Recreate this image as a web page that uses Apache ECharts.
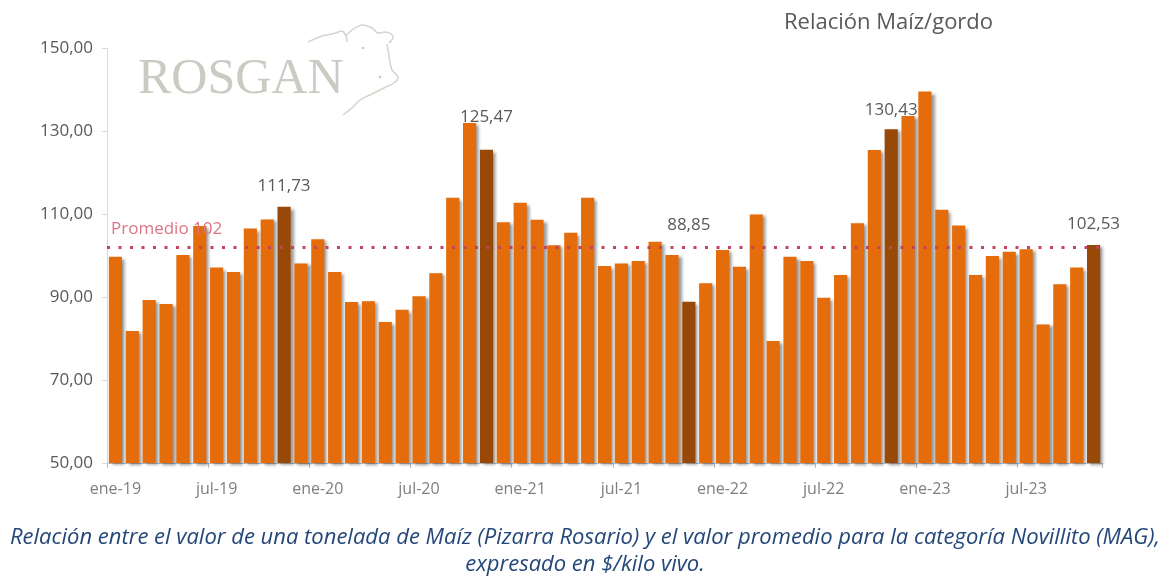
<!DOCTYPE html>
<html>
<head>
<meta charset="UTF-8">
<title>Relación Maíz/gordo</title>
<script src="https://cdn.jsdelivr.net/npm/echarts@6/dist/echarts.min.js"></script>
<style>
  html, body { margin: 0; padding: 0; background: #fff; }
  #main { width: 1168px; height: 577px; }
</style>
</head>
<body>
<div id="main"></div>
<script>
// meses ene-19 .. nov-23
var meses = ['ene-19','feb-19','mar-19','abr-19','may-19','jun-19','jul-19','ago-19','sep-19','oct-19','nov-19','dic-19',
  'ene-20','feb-20','mar-20','abr-20','may-20','jun-20','jul-20','ago-20','sep-20','oct-20','nov-20','dic-20',
  'ene-21','feb-21','mar-21','abr-21','may-21','jun-21','jul-21','ago-21','sep-21','oct-21','nov-21','dic-21',
  'ene-22','feb-22','mar-22','abr-22','may-22','jun-22','jul-22','ago-22','sep-22','oct-22','nov-22','dic-22',
  'ene-23','feb-23','mar-23','abr-23','may-23','jun-23','jul-23','ago-23','sep-23','oct-23','nov-23'];

// relacion maiz / gordo
var relacion = [99.7, 81.8, 89.3, 88.3, 100.1, 107.1, 97.1, 96.0, 106.5, 108.7, 111.73, 98.1,
  103.9, 96.0, 88.8, 89.0, 84.0, 86.9, 90.2, 95.7, 113.9, 131.9, 125.47, 108.0,
  112.7, 108.6, 102.5, 105.5, 113.9, 97.5, 98.1, 98.7, 103.3, 100.1, 88.85, 93.3,
  101.3, 97.3, 109.9, 79.4, 99.7, 98.7, 89.8, 95.3, 107.8, 125.4, 130.43, 133.6,
  139.5, 111.0, 107.2, 95.3, 99.9, 100.9, 101.5, 83.4, 93.1, 97.1, 102.53];

// noviembres destacados
var destacados = ['nov-19', 'nov-20', 'nov-21', 'nov-22', 'nov-23'];
var promedio = 102;
var yTicks = [50, 70, 90, 110, 130, 150];

// desplazamiento vertical de cada etiqueta (estilo)
var offsetEtiqueta = { 'nov-19': -7, 'nov-20': -19, 'nov-21': -63, 'nov-22': -6, 'nov-23': -7 };

function coma(v, d) { return v.toFixed(d).replace('.', ','); }

var datos = relacion.map(function (v, i) {
  var mes = meses[i];
  if (destacados.indexOf(mes) < 0) return v;
  return {
    value: v,
    itemStyle: { color: '#984807' },
    label: {
      show: true, position: 'top', offset: [0, offsetEtiqueta[mes]],
      formatter: function (p) { return coma(p.value, 2); },
      color: '#595959', fontSize: 17, fontFamily: 'Open Sans'
    }
  };
});

// trazo del logo (cabeza de vaca)
var vacaStyle = { fill: 'none', stroke: '#d4d4cd', lineWidth: 1.5 };
var vaca = [
  [[308, 42], [322, 36], [336, 33], [342, 31], [346, 36], [347, 42]],
  [[346, 36], [352, 30], [362, 25], [372, 28], [378, 33], [385, 32], [391, 34], [393, 38], [389, 43]],
  [[387, 44], [389, 56], [392, 70], [398, 77], [394, 83], [384, 88], [372, 94], [360, 100], [352, 108], [343, 115]]
];

var myChart = echarts.init(document.getElementById('main'));

var option = {
  backgroundColor: '#fff',
  animation: false,
  title: {
    text: 'Relación Maíz/gordo',
    left: 779, top: 7,
    textStyle: { color: '#595959', fontSize: 22, fontWeight: 'normal', fontFamily: 'Open Sans' }
  },
  graphic: [
    {
      type: 'text', x: 138, y: 55, silent: true,
      style: { text: 'ROSGAN', fill: '#cbcbc3', font: '50px "Liberation Serif"' }
    },
    {
      type: 'text', x: 585, y: 524, silent: true,
      style: {
        text: 'Relación entre el valor de una tonelada de Maíz (Pizarra Rosario) y el valor promedio para la categoría Novillito (MAG),\nexpresado en $/kilo vivo.',
        align: 'center', fill: '#24477a', font: 'italic 22px "Open Sans"', lineHeight: 27
      }
    },
    { type: 'circle', silent: true, shape: { cx: 363, cy: 48, r: 1.3 }, style: { fill: '#c8c8c0' } },
    { type: 'circle', silent: true, shape: { cx: 380, cy: 77, r: 1.3 }, style: { fill: '#c8c8c0' } }
  ].concat(vaca.map(function (pts) {
    return { type: 'polyline', silent: true, shape: { points: pts, smooth: 0.3 }, style: vacaStyle };
  })),
  grid: { left: 107, right: 66, top: 48, bottom: 114 },
  xAxis: {
    type: 'category',
    data: meses,
    boundaryGap: true,
    axisLine: { lineStyle: { color: '#bfbfbf', width: 1 } },
    axisTick: { show: true, interval: 5, length: 5, lineStyle: { color: '#bfbfbf' } },
    axisLabel: { interval: 5, margin: 18, color: '#7f7f7f', fontSize: 16, fontFamily: 'Open Sans' },
    splitLine: { show: false }
  },
  yAxis: {
    type: 'value',
    min: yTicks[0], max: yTicks[yTicks.length - 1], interval: 20,
    axisLine: { show: true, lineStyle: { color: '#d9d9d9' } },
    axisTick: { show: true, length: 5, lineStyle: { color: '#d9d9d9' } },
    axisLabel: { margin: 14, color: '#595959', fontSize: 17, fontFamily: 'Open Sans',
      formatter: function (v) { return coma(v, 2); } },
    splitLine: { show: false }
  },
  series: [
    {
      name: 'Relación Maíz/gordo',
      type: 'bar',
      data: datos,
      barCategoryGap: '22%',
      itemStyle: {
        color: '#e46c0a',
        shadowColor: 'rgba(0,0,0,0.4)', shadowBlur: 3, shadowOffsetX: 3, shadowOffsetY: 2
      },
      markLine: {
        silent: true,
        symbol: 'none',
        data: [{ yAxis: promedio }],
        lineStyle: { color: '#c3435d', type: [3, 8.5], width: 3 },
        label: {
          show: true, position: 'insideStartTop', distance: [4, 10],
          formatter: 'Promedio ' + promedio,
          color: '#dc7585', fontSize: 17, fontFamily: 'Open Sans'
        }
      }
    }
  ]
};

myChart.setOption(option);
</script>
</body>
</html>
